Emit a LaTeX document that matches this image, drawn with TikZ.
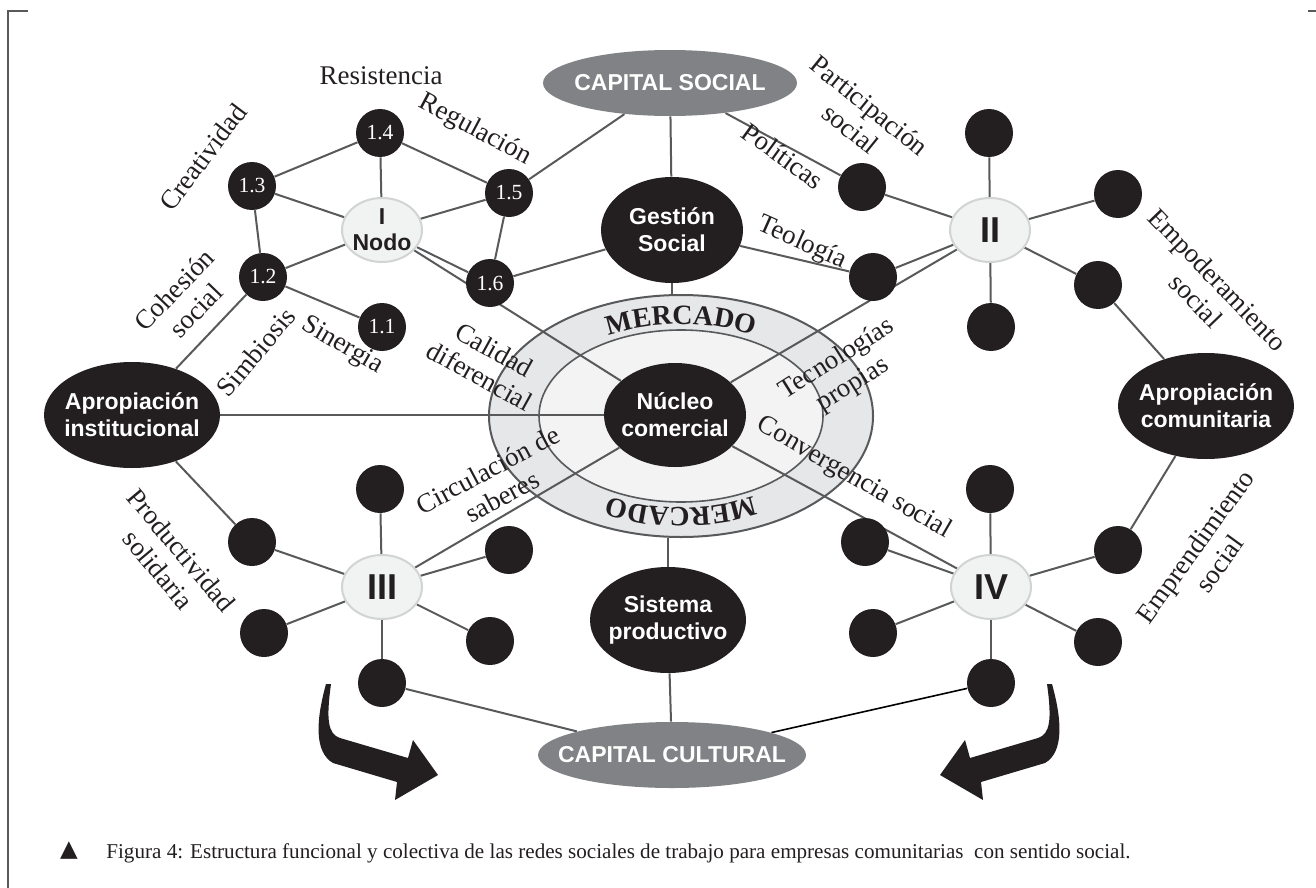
\documentclass[tikz,border=0pt]{standalone}
\usepackage{fontspec}
\setmainfont{Liberation Serif}
\setsansfont{Liberation Sans}
\newfontfamily\trifont{DejaVu Sans}
\usetikzlibrary{shapes.geometric,decorations.text,backgrounds}

\definecolor{ink}{HTML}{231F20}
\definecolor{wiregray}{HTML}{58595B}
\definecolor{capgray}{HTML}{808285}
\definecolor{hubfill}{HTML}{F1F2F2}
\definecolor{hubline}{HTML}{D1D3D4}
\definecolor{ringout}{HTML}{E6E7E8}
\definecolor{ringin}{HTML}{F3F3F4}

\newcommand{\mercfont}{\bfseries\fontsize{14}{14}\selectfont\color{ink}}

\tikzset{
  dot/.style={circle, fill=ink, minimum size=24pt, inner sep=0pt, text=white, font=\fontsize{10.8}{12}\selectfont},
  hub/.style={ellipse, fill=hubfill, draw=hubline, line width=1pt, minimum width=40pt, minimum height=32pt,
    inner sep=-4pt, align=center, text=ink, font=\sffamily\bfseries\fontsize{18}{18}\selectfont},
  blob/.style={ellipse, fill=ink, text=white, inner xsep=-12pt, inner ysep=-2pt, align=center,
    font=\sffamily\bfseries\fontsize{11.5}{13.5}\selectfont},
  capital/.style={blob, fill=capgray},
  lbl/.style={font=\fontsize{13.5}{15}\selectfont, text=ink, align=center, inner sep=0pt},
  link/.style={draw=wiregray, line width=1pt},
}

\begin{document}
\begin{tikzpicture}[x=0.5pt, y=-0.5pt]
  \useasboundingbox (0,0) rectangle (1316,888);

  % frame
  \draw[wiregray, line width=1.2pt] (28,11) -- (8,11) -- (8,888);
  \draw[wiregray, line width=1.2pt] (1308,11) -- (1316,11);

  % market ring
  \begin{pgfonlayer}{background}
    \node[ellipse, draw=wiregray, line width=1pt, fill=ringout, minimum width=192pt, minimum height=121pt] (mercado) at (681,416) {};
    \node[ellipse, draw=wiregray, line width=0.8pt, fill=ringin, minimum width=142pt, minimum height=86pt] (mercadoIn) at (681,416) {};
    \path[decorate, decoration={text along path, text align=center, text={|\mercfont|MERCADO}}]
      plot[domain=200:340, samples=60] ({681+151*cos(\x)}, {416+92*sin(\x)});
    \path[decorate, decoration={text along path, text align=center, text={|\mercfont|MERCADO}}]
      plot[domain=20:160, samples=60] ({681+151*cos(\x)}, {416+92*sin(\x)});
  \end{pgfonlayer}

  % centre column
  \node[capital, minimum width=127pt, minimum height=33pt] (capsoc) at (670,83) {CAPITAL SOCIAL};
  \node[blob, minimum width=71pt, minimum height=53pt] (gestion) at (672,230) {Gestión\\Social};
  \node[blob, minimum width=71pt, minimum height=52pt] (nucleo) at (675,415) {Núcleo\\comercial};
  \node[blob, minimum width=78pt, minimum height=53pt] (sistema) at (668,620) {Sistema\\productivo};
  \node[capital, minimum width=134pt, minimum height=33pt] (capcul) at (672,755) {CAPITAL CULTURAL};
  \node[blob, minimum width=88pt, minimum height=53pt] (aproinst) at (132,415) {Apropiación\\institucional};
  \node[blob, minimum width=88pt, minimum height=53pt] (aprocom) at (1206,406) {Apropiación\\comunitaria};

  % node I
  \node[hub, font=\sffamily\bfseries\fontsize{11.5}{13}\selectfont] (hubI) at (382,230) {I\\Nodo};
  \node[dot] (n11) at (382,327) {1.1};
  \node[dot] (n12) at (263,277) {1.2};
  \node[dot] (n13) at (252,186) {1.3};
  \node[dot] (n14) at (380,133) {1.4};
  \node[dot] (n15) at (509,193) {1.5};
  \node[dot] (n16) at (490,283) {1.6};

  % node II
  \node[hub] (hubII) at (990,230) {II};
  \node[dot] (iiT) at (989,133) {};
  \node[dot] (iiRU) at (1118,194) {};
  \node[dot] (iiRD) at (1098,285) {};
  \node[dot] (iiB) at (991,327) {};
  \node[dot] (iiLD) at (873,277) {};
  \node[dot] (iiLU) at (862,187) {};

  % node III
  \node[hub] (hubIII) at (382,587) {III};
  \node[dot] (iiiT) at (380,489) {};
  \node[dot] (iiiLU) at (252,542) {};
  \node[dot] (iiiLD) at (264,633) {};
  \node[dot] (iiiB) at (382,683) {};
  \node[dot] (iiiRD) at (490,641) {};
  \node[dot] (iiiRU) at (509,550) {};

  % node IV
  \node[hub] (hubIV) at (991,587) {IV};
  \node[dot] (ivT) at (990,489) {};
  \node[dot] (ivLU) at (865,542) {};
  \node[dot] (ivLD) at (873,633) {};
  \node[dot] (ivB) at (991,683) {};
  \node[dot] (ivRD) at (1098,642) {};
  \node[dot] (ivRU) at (1118,550) {};

  % links
  \begin{pgfonlayer}{background}
    \draw[link] (hubI) edge (n12) edge (n13) edge (n14) edge (n15) edge (n16) edge (nucleo);
    \draw[link] (n14) edge (n13) edge (n15);
    \draw[link] (n12) edge (n13) edge (n11) edge (aproinst);
    \draw[link] (n15) edge (n16) edge (capsoc);
    \draw[link] (n16) -- (gestion);
    \draw[link] (capsoc) edge (gestion) edge (iiLU);
    \draw[link] (gestion) edge (iiLD) edge (gestion |- mercado.north);
    \draw[link] (hubII) edge (iiT) edge (iiRU) edge (iiRD) edge (iiB) edge (iiLD) edge (iiLU) edge (nucleo);
    \draw[link] (aprocom) edge (iiRD) edge (ivRU);
    \draw[link] (aproinst) edge (nucleo) edge (iiiLU);
    \draw[link] (hubIII) edge (iiiT) edge (iiiLU) edge (iiiLD) edge (iiiB) edge (iiiRD) edge (iiiRU) edge (nucleo);
    \draw[link] (hubIV) edge (ivT) edge (ivLU) edge (ivLD) edge (ivB) edge (ivRD) edge (ivRU) edge (nucleo);
    \draw[link] (sistema) edge (sistema |- mercado.south) edge (capcul);
    \draw[link] (capcul) -- (iiiB);
    \draw[black, line width=0.8pt] (capcul) -- (ivB);
  \end{pgfonlayer}

  % labels
  \node[lbl] (tResist) at (381,76) {Resistencia};
  \node[lbl, rotate=53] (tCreat) at (203,157) {Creatividad};
  \node[lbl, rotate=-28] (tRegul) at (475,130) {Regulación};
  \node[lbl, rotate=46] (tCohes) at (185,300) {Cohesión\\social};
  \node[lbl, rotate=50] (tSimb) at (256,352) {Simbiosis};
  \node[lbl, rotate=-30] (tSiner) at (342,346) {Sinergia};
  \node[lbl, rotate=-29] (tCalid) at (487,363) {Calidad\\diferencial};
  \node[lbl, rotate=-50] (tProduc) at (170,560) {Productividad\\solidaria};
  \node[lbl, rotate=28] (tCircul) at (495,483) {Circulación de\\saberes};
  \node[lbl, rotate=-39] (tPartic) at (860,117) {Participación\\social};
  \node[lbl, rotate=-36] (tPolit) at (783,156) {Políticas};
  \node[lbl, rotate=-24] (tTeol) at (802,243) {Teología};
  \node[lbl, rotate=32] (tTecno) at (845,372) {Tecnologías\\propias};
  \node[lbl, rotate=-30] (tConver) at (854,478) {Convergencia social};
  \node[lbl, rotate=-46] (tEmpod) at (1207,290) {Empoderamiento\\social};
  \node[lbl, rotate=54] (tEmpren) at (1207,555) {Emprendimiento\\social};

  % bent arrows
  \fill[ink] (326,684) .. controls (316,720) and (314,752) .. (333,763) -- (397,782) -- (395,800) -- (438,775)
    -- (413,740) -- (408,758) -- (340,738) .. controls (328,734) and (326,720) .. (331,684) -- cycle;
  \fill[ink] (1052,684) .. controls (1062,720) and (1064,752) .. (1045,763) -- (981,782) -- (983,800) -- (940,775)
    -- (965,740) -- (970,758) -- (1038,738) .. controls (1050,734) and (1052,720) .. (1047,684) -- cycle;

  % caption
  \node[font=\trifont\fontsize{11.5}{11.5}\selectfont, text=ink, inner sep=0pt] (capMark) at (69,851) {▲};
  \node[anchor=base west, font=\fontsize{10.55}{12}\selectfont, text=ink, inner sep=0pt] (caption) at (106,858)
    {Figura 4: Estructura funcional y colectiva de las redes sociales de trabajo para empresas comunitarias\ \ con sentido social.};
\end{tikzpicture}
\end{document}
